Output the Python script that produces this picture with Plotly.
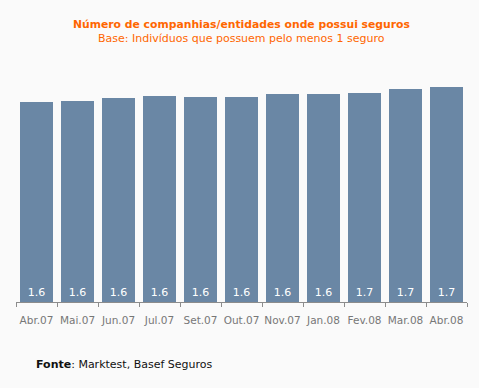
import plotly.graph_objects as go

months = ["Abr.07", "Mai.07", "Jun.07", "Jul.07", "Set.07", "Out.07",
          "Nov.07", "Jan.08", "Fev.08", "Mar.08", "Abr.08"]
values = [1.584, 1.591, 1.615, 1.631, 1.623, 1.623, 1.647, 1.647, 1.655, 1.686, 1.702]

FONT = "DejaVu Sans"
W, H = 479, 388
ML, MR, MT, MB = 16, 12, 60, 86

fig = go.Figure(go.Bar(
    x=months, y=values,
    marker=dict(color="#6A87A5", line=dict(width=0)),
    texttemplate="%{y:.1f}",
    textposition="inside",
    insidetextanchor="start",
    textangle=0,
    textfont=dict(color="white", size=11, family=FONT),
    cliponaxis=False,
    hoverinfo="skip",
))

fig.update_layout(
    width=W, height=H,
    margin=dict(l=ML, r=MR, t=MT, b=MB, autoexpand=False),
    paper_bgcolor="#FAFAFA", plot_bgcolor="#FAFAFA",
    bargap=0.195,
    showlegend=False,
    uniformtext=dict(minsize=8, mode="show"),
    font=dict(family=FONT, size=11, color="#777777"),
    xaxis=dict(
        showline=True, linecolor="#8C8C8C", linewidth=1,
        ticks="outside", ticklen=4, tickcolor="#8C8C8C", tickson="boundaries",
        showgrid=False, tickangle=0, automargin=False, fixedrange=True,
        tickfont=dict(size=10.5, color="#777777", family=FONT),
        ticklabelstandoff=8,
    ),
    yaxis=dict(range=[0, 1.916], visible=False, showgrid=False,
               automargin=False, fixedrange=True),
)

plot_h = H - MT - MB
def ypx(py):
    return (H - MB - py) / plot_h

fig.add_annotation(text="<b>Número de companhias/entidades onde possui seguros</b>",
                   x=0.5, xref="paper", y=ypx(25), yref="paper", showarrow=False,
                   xanchor="center", yanchor="middle",
                   font=dict(color="#FF6600", size=10.8, family=FONT))
fig.add_annotation(text="Base: Indivíduos que possuem pelo menos 1 seguro",
                   x=0.5, xref="paper", y=ypx(39), yref="paper", showarrow=False,
                   xanchor="center", yanchor="middle",
                   font=dict(color="#FF6600", size=11, family=FONT))
fig.add_annotation(text="<b>Fonte</b>: Marktest, Basef Seguros",
                   x=(34 - ML) / (W - ML - MR), xref="paper", y=ypx(364), yref="paper",
                   showarrow=False, xanchor="left", yanchor="middle",
                   font=dict(color="#111111", size=11, family=FONT))

fig.write_html(
    "out.html",
    config={"displayModeBar": False, "staticPlot": True},
    post_script="document.body.style.margin='0';document.body.style.background='#FAFAFA';",
)
